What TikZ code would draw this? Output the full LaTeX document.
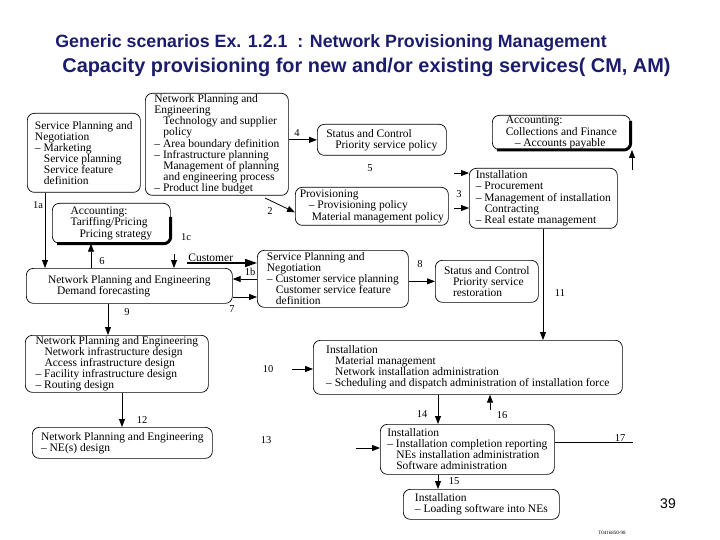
\documentclass[tikz,border=0pt]{standalone}
\usepackage{fontspec}
\setmainfont{Liberation Serif}
\newfontfamily\headfont{Liberation Sans}
\usetikzlibrary{arrows.meta}
\definecolor{headblue}{RGB}{28,28,110}
\newcommand{\indt}{\hspace*{9pt}}
\newcommand{\boxfont}{\fontsize{11.5}{11.1}\selectfont}

\begin{document}
\begin{tikzpicture}[x=1pt,y=-1pt,
  box/.style={draw, line width=0.7pt, rounded corners=7pt, anchor=north west,
    align=left, inner xsep=3pt, inner ysep=1pt, font=\boxfont},
  num/.style={font=\fontsize{10.5}{12}\selectfont, inner sep=0pt},
  line width=0.8pt, >={Triangle[length=8pt,width=6pt]}]
  \useasboundingbox (0,0) rectangle (720,540);

  % titles
  \node[anchor=west, inner sep=0pt, text=headblue, font=\headfont\fontsize{17.8}{20}\selectfont\bfseries]
    (head) at (55,43) {Generic scenarios Ex. 1.2.1\ \ : Network Provisioning Management};
  \node[anchor=west, inner sep=0pt, text=headblue, font=\headfont\fontsize{19.9}{22}\selectfont\bfseries]
    (subhead) at (62,67) {Capacity provisioning for new and/or existing services( CM, AM)};

  % boxes
  \node[box, minimum width=113pt, minimum height=79pt] (spn1) at (27,113)
    {Service Planning and\\Negotiation\\– Marketing\\\indt Service planning\\\indt Service feature\\\indt definition};
  \node[box, minimum width=143pt, minimum height=102pt] (npe1) at (145,93)
    {Network Planning and\\Engineering\\\indt Technology and supplier\\\indt policy\\– Area boundary definition\\– Infrastructure planning\\\indt Management of planning\\\indt and engineering process\\– Product line budget};
  \node[box, minimum width=118pt, minimum height=40pt] (acc1) at (52,203)
    {Accounting:\\Tariffing/Pricing\\\indt Pricing strategy};
  \node[box, minimum width=129pt, minimum height=31pt] (sc1) at (317,124)
    {Status and Control\\\indt Priority service policy};
  \node[box, minimum width=138pt, minimum height=33pt] (accf) at (492,115)
    {Accounting:\\Collections and Finance\\\indt – Accounts payable};
  \node[box, minimum width=153pt, minimum height=38pt] (prov) at (295,187)
    {Provisioning\\\indt – Provisioning policy\\\hspace*{12pt}Material management policy};
  \node[box, minimum width=148pt, minimum height=60pt] (inst1) at (469,168)
    {Installation\\– Procurement\\– Management of installation\\\indt Contracting\\– Real estate management};
  \node[box, minimum width=206pt, minimum height=35pt] (npedf) at (26,268)
    {Network Planning and Engineering\\\indt Demand forecasting};
  \node[box, minimum width=151pt, minimum height=57pt] (spn2) at (257,250)
    {Service Planning and\\Negotiation\\– Customer service planning\\\indt Customer service feature\\\indt definition};
  \node[box, minimum width=103pt, minimum height=42pt] (sc2) at (435,260)
    {Status and Control\\\indt Priority service\\\indt restoration};
  \node[box, minimum width=183pt, minimum height=57pt] (npe3) at (25,335)
    {Network Planning and Engineering\\\indt Network infrastructure design\\\indt Access infrastructure design\\– Facility infrastructure design\\– Routing design};
  \node[box, minimum width=309pt, minimum height=54pt] (inst2) at (313,340)
    {Installation\\\indt Material management\\\indt Network installation administration\\– Scheduling and dispatch administration of installation force};
  \node[box, minimum width=180pt, minimum height=31pt] (npe4) at (32,427)
    {Network Planning and Engineering\\– NE(s) design};
  \node[box, minimum width=174pt, minimum height=50pt] (inst3) at (380,424)
    {Installation\\– Installation completion reporting\\\indt NEs installation administration\\\indt Software administration};
  \node[box, minimum width=156pt, minimum height=30pt] (inst4) at (403,489)
    {Installation\\– Loading software into NEs};

  % shadows of the accounting boxes
  \draw[line width=3pt, rounded corners=7pt] ([xshift=5pt]acc1.south west) -- (acc1.south east) -- ([yshift=-14pt]acc1.north east);
  \draw[line width=3pt, rounded corners=7pt] ([xshift=5pt]accf.south west) -- (accf.south east) -- ([yshift=-6pt]accf.north east);

  % free ends
  \coordinate (c1c) at (174,254);
  \coordinate (c2) at (265,198);
  \coordinate (c3a) at (454,173);
  \coordinate (c3b) at (454,208);
  \coordinate (cacc) at (632,170);
  \coordinate (c10) at (292,369);
  \coordinate (c13) at (356,448);
  \coordinate (c16) at (490,410);
  \coordinate (c17) at (633,442);

  % connectors
  \draw[->] (spn1.south -| 45,0) -- (npedf.north -| 45,0);
  \draw[->] (npedf.north -| 91,0) -- (acc1.south -| 91,0);
  \draw[->] (c1c) -- (npedf.north -| c1c);
  \draw[->] (npe1.east |- sc1.west) -- (sc1.west);
  \draw[->] (c2) -- ([yshift=-6pt]prov.west);
  \draw[->] (c3a) -- (inst1.west |- c3a);
  \draw[->] (c3b) -- (inst1.west |- c3b);
  \draw[->] (cacc) -- (accf.south -| cacc);
  \node[anchor=south west, inner sep=1pt, font=\boxfont] (cust) at (187,263) {Customer};
  \draw[line width=1.6pt, -{Triangle[length=12pt,width=8pt]}] (cust.south west) -- (cust.south west -| spn2.west);
  \draw[->] (spn2.west |- 0,279) -- (npedf.east |- 0,279);
  \draw[->] (npedf.east |- 0,297) -- (spn2.west |- 0,297);
  \draw[->] (spn2.east |- sc2.west) -- (sc2.west);
  \draw[->] (npedf.south -| 108,0) -- (npe3.north -| 108,0);
  \draw[->] (npe3.south -| 122,0) -- (npe4.north -| 122,0);
  \draw[->] (inst1.south -| 543,0) -- (inst2.north -| 543,0);
  \draw[->] (c10) -- (inst2.west |- c10);
  \draw[->] (inst2.south -| 438,0) -- (inst3.north -| 438,0);
  \draw[->] (c16) -- (inst2.south -| c16);
  \draw[->] (inst3.south -| 438,0) -- (inst4.north -| 438,0);
  \draw[->] (c13) -- (inst3.west |- c13);
  \draw (inst3.east |- c17) -- (c17);

  % numbers
  \node[num] (l1a) at (38,205) {1a};
  \node[num] (l1b) at (250,272) {1b};
  \node[num] (l1c) at (186,237) {1c};
  \node[num] (l2) at (270,211) {2};
  \node[num] (l3) at (459,194) {3};
  \node[num] (l4) at (297,133) {4};
  \node[num] (l5) at (370,168) {5};
  \node[num] (l6) at (102,261) {6};
  \node[num] (l7) at (232,309) {7};
  \node[num] (l8) at (420,264) {8};
  \node[num] (l9) at (127,312) {9};
  \node[num] (l10) at (268,369) {10};
  \node[num] (l11) at (560,293) {11};
  \node[num] (l12) at (142,420) {12};
  \node[num] (l13) at (266,440) {13};
  \node[num] (l14) at (422,414) {14};
  \node[num] (l15) at (454,481) {15};
  \node[num] (l16) at (502,415) {16};
  \node[num] (l17) at (620,438) {17};

  \node[font=\headfont\fontsize{14}{16}\selectfont] (page) at (668,504) {39};
  \node[font=\fontsize{5}{6}\selectfont] (code) at (612,533) {T0416850-98};
\end{tikzpicture}
\end{document}
